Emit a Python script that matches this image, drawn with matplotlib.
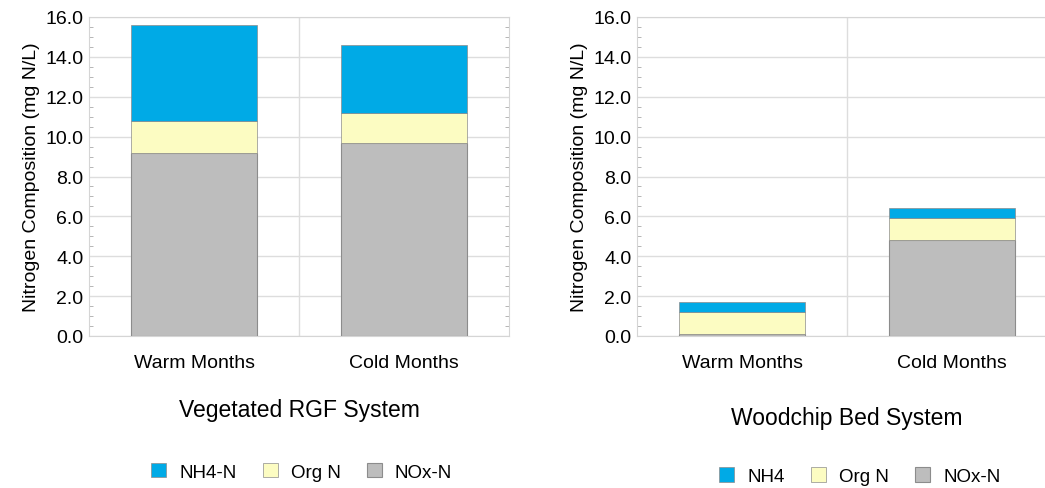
import matplotlib
matplotlib.use("Agg")
import matplotlib.pyplot as plt
from matplotlib.ticker import MultipleLocator
import numpy as np

plt.rcParams["font.family"] = ["Liberation Sans", "DejaVu Sans"]

# Données (mg N/L)
saisons = ["Warm Months", "Cold Months"]

rgf_nox = [9.2, 9.7]
rgf_org = [1.6, 1.5]
rgf_nh4 = [4.8, 3.4]

bois_nox = [0.1, 4.8]
bois_org = [1.1, 1.1]
bois_nh4 = [0.5, 0.5]

titres = ["Vegetated RGF System", "Woodchip Bed System"]
noms_nh4 = ["NH4-N", "NH4"]

BLEU = "#00AAE6"
JAUNE = "#FCFCC2"
GRIS = "#BDBDBD"
BORD = "#8C8C8C"

W, H = 1045, 489
fig = plt.figure(figsize=(W / 100, H / 100), dpi=100)


def panneau(x0, nox, org, nh4, titre, nom_nh4, y_titre, y_leg, x_leg):
    ax = fig.add_axes([x0 / W, (H - 337) / H, 420 / W, 319 / H])
    x = np.arange(len(saisons))
    nox = np.array(nox)
    org = np.array(org)
    nh4 = np.array(nh4)
    b1 = ax.bar(x, nox, width=0.6, color=GRIS, edgecolor=BORD, lw=0.8, zorder=3, label="NOx-N")
    b2 = ax.bar(x, org, bottom=nox, width=0.6, color=JAUNE, edgecolor=BORD, lw=0.5, zorder=3, label="Org N")
    b3 = ax.bar(x, nh4, bottom=nox + org, width=0.6, color=BLEU, edgecolor=BORD, lw=0.5, zorder=3,
                label=nom_nh4)
    ax.set_xlim(-0.5, 1.5)
    ax.set_ylim(0, 16)
    ax.yaxis.set_major_locator(MultipleLocator(2))
    ax.yaxis.set_minor_locator(MultipleLocator(0.5))
    ax.set_yticklabels([f"{v:.1f}" for v in ax.get_yticks()])
    ax.set_xticks(x)
    ax.set_xticklabels(saisons, fontsize=14)
    ax.tick_params(axis="x", length=0, pad=13)
    ax.tick_params(axis="y", which="major", labelsize=14, length=0, pad=4)
    ax.tick_params(axis="y", which="minor", direction="in", length=3, color="#AAAAAA",
                   left=True, right=True)
    ax.grid(axis="y", color="#DDDDDD", lw=1, zorder=0)
    ax.axvline(0.5, color="#DDDDDD", lw=1, zorder=0)
    for s in ax.spines.values():
        s.set_color("#D5D5D5")
    ax.set_ylabel("Nitrogen Composition (mg N/L)", fontsize=14, labelpad=4)
    ax.text(0.5, y_titre, titre, transform=ax.transAxes, ha="center", va="center", fontsize=16.5)
    ax.legend(handles=[b3, b2, b1], loc="center", bbox_to_anchor=(x_leg, y_leg), ncol=3,
              frameon=False, fontsize=13.5, handlelength=0.8, handleheight=0.8,
              columnspacing=1.4, handletextpad=0.7)
    return ax


panneau(89, rgf_nox, rgf_org, rgf_nh4, titres[0], noms_nh4[0], -0.229, -0.426, 0.506)
panneau(637, bois_nox, bois_org, bois_nh4, titres[1], noms_nh4[1], -0.254, -0.439, 0.53)

fig.savefig("out.png", dpi=100)
